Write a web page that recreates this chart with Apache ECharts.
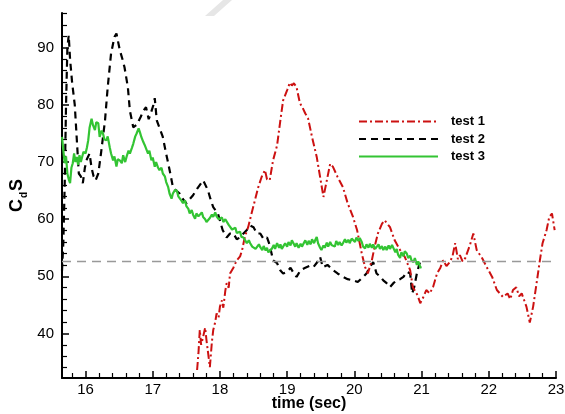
<!DOCTYPE html>
<html>
<head>
<meta charset="utf-8">
<script src="https://cdn.jsdelivr.net/npm/echarts@6/dist/echarts.min.js"></script>
<style>
html,body{margin:0;padding:0;background:#fff;}
#chart{width:565px;height:414px;}
</style>
</head>
<body>
<div id="chart"></div>
<script>
// ---- data (time in sec, C_dS) ----
const seriesNames = ['test 1', 'test 2', 'test 3'];
const xMajorTicks = [16, 17, 18, 19, 20, 21, 22, 23];
const xMinorTicks = [15.8, 16.2, 16.4, 16.6, 16.8, 17.2, 17.4, 17.6, 17.8, 18.2, 18.4, 18.6, 18.8, 19.2, 19.4, 19.6, 19.8, 20.2, 20.4, 20.6, 20.8, 21.2, 21.4, 21.6, 21.8, 22.2, 22.4, 22.6, 22.8];
const yMajorTicks = [40, 50, 60, 70, 80, 90];
const yMinorTicks = [34, 36, 38, 42, 44, 46, 48, 52, 54, 56, 58, 62, 64, 66, 68, 72, 74, 76, 78, 82, 84, 86, 88, 92, 94, 96];
const referenceLevel = 52.7;

const test1 = [[17.66,33.6],[17.68,36.5],[17.70,40.6],[17.72,38.0],[17.75,39.4],[17.78,41.0],[17.80,38.8],[17.83,36.0],[17.85,34.1],[17.88,38.5],[17.90,40.6],[17.93,42.0],[17.95,43.5],[17.98,42.8],[18.00,44.7],[18.03,45.8],[18.05,44.5],[18.08,47.5],[18.10,48.8],[18.13,48.0],[18.15,50.5],[18.20,51.5],[18.25,52.8],[18.30,53.5],[18.33,54.6],[18.37,56.9],[18.42,58.6],[18.47,61.0],[18.52,63.3],[18.57,65.6],[18.62,67.4],[18.67,68.6],[18.70,67.0],[18.74,66.8],[18.79,70.3],[18.85,72.9],[18.90,77.4],[18.94,80.8],[19.00,82.6],[19.04,83.9],[19.07,83.4],[19.10,83.8],[19.14,83.1],[19.19,80.3],[19.23,79.5],[19.27,78.5],[19.31,77.7],[19.37,74.4],[19.44,70.9],[19.49,67.4],[19.54,63.9],[19.59,66.8],[19.64,69.7],[19.68,69.2],[19.75,67.4],[19.83,65.6],[19.90,62.8],[19.98,60.4],[20.04,58.1],[20.08,55.8],[20.11,54.0],[20.16,51.6],[20.20,50.5],[20.26,52.8],[20.30,55.1],[20.35,57.5],[20.41,59.2],[20.45,59.8],[20.53,58.6],[20.60,56.3],[20.68,54.6],[20.75,53.4],[20.83,51.1],[20.87,48.1],[20.94,46.7],[20.98,45.3],[21.02,46.2],[21.07,47.6],[21.12,47.0],[21.17,48.1],[21.23,50.5],[21.28,51.5],[21.32,52.8],[21.37,51.8],[21.42,52.5],[21.46,53.5],[21.50,55.8],[21.54,53.0],[21.57,53.7],[21.61,52.6],[21.65,53.2],[21.72,55.5],[21.77,57.5],[21.82,54.6],[21.90,53.2],[21.97,51.6],[22.05,49.9],[22.12,47.6],[22.21,46.4],[22.28,47.0],[22.32,46.0],[22.36,47.6],[22.41,48.1],[22.45,46.5],[22.49,47.0],[22.56,44.7],[22.61,41.9],[22.66,44.7],[22.71,48.7],[22.76,52.8],[22.80,55.8],[22.86,58.1],[22.90,60.4],[22.94,61.0],[22.98,58.1]];

const test2 = [[15.65,51],[15.67,56],[15.69,66],[15.71,80],[15.73,90],[15.75,92.2],[15.77,88],[15.80,84],[15.84,80],[15.87,74],[15.90,68],[15.93,67.5],[15.96,66.3],[15.99,69],[16.02,70.5],[16.06,71.5],[16.09,69],[16.12,67.5],[16.15,66.8],[16.19,68],[16.23,71.5],[16.29,77.3],[16.33,83.1],[16.38,89],[16.43,91.9],[16.46,92.5],[16.48,92.2],[16.51,89.6],[16.55,88],[16.58,86.6],[16.63,83.1],[16.66,79],[16.71,76.1],[16.76,76.5],[16.82,77.9],[16.86,79],[16.90,79.6],[16.94,77.5],[16.97,78.5],[17.01,80],[17.03,81.2],[17.06,77.3],[17.10,76],[17.15,74.4],[17.19,72],[17.23,69.8],[17.27,67.5],[17.30,65.6],[17.35,65],[17.40,64.5],[17.45,63.5],[17.50,62.8],[17.55,63.5],[17.60,64.2],[17.67,65.5],[17.75,66.8],[17.82,65.1],[17.86,63.5],[17.90,62.1],[17.97,61],[18.04,58.1],[18.10,56.8],[18.15,57.5],[18.20,57.5],[18.25,56.5],[18.30,56.8],[18.35,57.5],[18.40,58.1],[18.45,58.9],[18.50,58.6],[18.55,57.5],[18.60,57.5],[18.65,56.5],[18.70,56.8],[18.74,55.5],[18.79,52.8],[18.85,52.3],[18.90,51],[18.94,50.5],[19.00,50.8],[19.05,51.5],[19.10,50.5],[19.14,49.9],[19.20,51.1],[19.27,51.5],[19.33,51.8],[19.39,51.6],[19.45,52.5],[19.49,53.4],[19.53,51.6],[19.60,52],[19.68,51.1],[19.75,50.5],[19.83,49.9],[19.90,49.5],[19.98,49.3],[20.05,49],[20.13,49.9],[20.18,50.5],[20.23,51.6],[20.28,52.5],[20.33,50.5],[20.38,50],[20.43,49.3],[20.48,48.8],[20.53,48.1],[20.58,48.8],[20.63,49.3],[20.68,49.5],[20.73,49.9],[20.78,50.8],[20.83,50.5],[20.86,47],[20.89,48.1],[20.93,50.5],[20.97,52.3],[21.0,51.8]];

const test3 = [[15.65,74.4],[15.67,72],[15.69,69.8],[15.71,71],[15.73,68],[15.75,67],[15.77,66.3],[15.79,69],[15.81,69.8],[15.83,71.5],[15.85,70],[15.87,70.9],[15.89,69.5],[15.91,71.2],[15.93,70],[15.95,70.3],[15.97,71.8],[16.0,71.5],[16.02,72.5],[16.04,73.8],[16.06,76],[16.09,77.6],[16.11,76.5],[16.14,75.6],[16.16,77],[16.19,76.8],[16.21,74.4],[16.24,75.5],[16.26,75],[16.28,74],[16.31,73.8],[16.33,74.5],[16.36,72.6],[16.38,71.5],[16.41,70.3],[16.43,71],[16.46,69.2],[16.48,70.5],[16.51,70.3],[16.54,69.8],[16.56,71.2],[16.59,70],[16.61,70.9],[16.64,72],[16.66,71.5],[16.69,72.5],[16.71,73.2],[16.74,74.5],[16.76,75],[16.79,75.9],[16.81,75.2],[16.83,74.4],[16.86,73.5],[16.88,73],[16.91,72.1],[16.93,71.5],[16.95,72],[16.98,70.3],[17.0,70.8],[17.03,69.2],[17.05,70],[17.08,69],[17.10,68.6],[17.13,69],[17.15,68],[17.18,67.5],[17.20,66.5],[17.23,65.6],[17.25,64.5],[17.28,63.6],[17.30,64.5],[17.33,65.1],[17.36,65],[17.38,64],[17.40,63.9],[17.43,63.2],[17.45,62.8],[17.48,63.3],[17.50,62.3],[17.53,61.8],[17.55,61],[17.58,61.6],[17.60,60.8],[17.63,60.1],[17.65,61],[17.68,60.5],[17.70,60.4],[17.73,61.2],[17.75,60.4],[17.78,60],[17.80,59.5],[17.82,59.2],[17.85,60.2],[17.88,60.8],[17.90,60.4],[17.93,61.2],[17.95,60.5],[17.98,60],[18.0,59.8],[18.03,60.3],[18.05,59.5],[18.08,60],[18.10,59.8],[18.13,59],[18.15,58.8],[18.18,58.2],[18.20,58.1],[18.23,58.5],[18.25,57.6],[18.27,57.5],[18.30,57.8],[18.32,56.9],[18.35,56.8],[18.38,56.2],[18.40,55.8],[18.43,56.3],[18.45,55.8],[18.48,55.2],[18.50,55.5],[18.53,54.8],[18.55,55.1],[18.58,55.6],[18.60,55.1],[18.63,54.6],[18.65,55.3],[18.68,54.5],[18.70,55],[18.72,54.2],[18.74,54],[18.77,54.8],[18.80,55.5],[18.82,54.8],[18.85,55.8],[18.88,55],[18.90,55.6],[18.92,54.8],[18.94,55.2],[18.97,55.8],[19.0,55.2],[19.02,56],[19.05,55.4],[19.07,56.3],[19.09,56],[19.12,55.2],[19.14,55.8],[19.17,55],[19.20,55.7],[19.22,55.2],[19.24,55.5],[19.27,56.3],[19.30,55.5],[19.32,56.2],[19.35,55.6],[19.37,56.5],[19.40,55.8],[19.42,56.4],[19.44,56.9],[19.46,55.8],[19.49,55],[19.51,54.6],[19.54,55.4],[19.56,55],[19.59,55.9],[19.61,55.2],[19.64,56],[19.66,55.5],[19.68,55.8],[19.71,55.2],[19.73,56.2],[19.76,55.5],[19.78,56],[19.81,55.4],[19.83,55.8],[19.86,56.5],[19.88,55.9],[19.91,56.4],[19.93,55.8],[19.96,56.6],[19.98,56.3],[20.01,56],[20.03,56.8],[20.06,56.2],[20.08,56.7],[20.11,56],[20.13,55.2],[20.16,54.9],[20.18,55.6],[20.21,55],[20.23,55.7],[20.26,55],[20.28,55.6],[20.31,54.8],[20.33,54.9],[20.36,55.6],[20.38,54.8],[20.41,55.3],[20.43,54.6],[20.46,55.2],[20.48,54.6],[20.51,55.4],[20.53,54.8],[20.56,55.5],[20.58,55.2],[20.61,54.2],[20.63,54.8],[20.65,53.8],[20.68,53.2],[20.70,54.2],[20.73,53.5],[20.75,54.4],[20.78,54],[20.80,53.2],[20.83,53.6],[20.85,52.8],[20.88,52.5],[20.90,53.2],[20.93,52],[20.95,52.6],[20.98,51.6],[21.0,51.5]];

// ---- chart ----
const FONT = '"Liberation Sans", Arial, Helvetica, sans-serif';
const chart = echarts.init(document.getElementById('chart'), null, {renderer: 'canvas'});

const xMin = 15.65, xMax = 23, yMin = 32.2, yMax = 96.1;

const option = {
  animation: false,
  backgroundColor: '#fff',
  grid: {left: 62, right: 9, top: 13, bottom: 36, containLabel: false, outerBoundsMode: 'none'},
  xAxis: [{
    type: 'value', min: xMin, max: xMax, position: 'bottom',
    axisLine: {show: true, onZero: false, lineStyle: {color: '#000', width: 2}},
    axisTick: {show: true, inside: true, length: 7, customValues: xMajorTicks, lineStyle: {color: '#000', width: 1.5}},
    axisLabel: {customValues: xMajorTicks, margin: 4, color: '#000', fontSize: 15, fontFamily: FONT, formatter: v => String(Math.round(v))},
    splitLine: {show: false},
    name: 'time (sec)', nameLocation: 'middle', nameGap: 18, nameMoveOverlap: false,
    nameTextStyle: {fontSize: 16, fontWeight: 'bold', color: '#000', fontFamily: FONT}
  }, {
    type: 'value', min: xMin, max: xMax, position: 'bottom',
    axisLine: {show: false, onZero: false},
    axisTick: {show: true, inside: true, length: 5, customValues: xMinorTicks, lineStyle: {color: '#000', width: 1.2}},
    axisLabel: {show: false},
    splitLine: {show: false}
  }],
  yAxis: [{
    type: 'value', min: yMin, max: yMax, position: 'left',
    axisLine: {show: true, onZero: false, lineStyle: {color: '#000', width: 2}},
    axisTick: {show: true, inside: true, length: 7, customValues: yMajorTicks, lineStyle: {color: '#000', width: 1.5}},
    axisLabel: {customValues: yMajorTicks, margin: 8, color: '#000', fontSize: 15, fontFamily: FONT, formatter: v => String(Math.round(v))},
    splitLine: {show: false},
    name: '{a|C}{b|d}{a|S}', nameLocation: 'middle', nameGap: 33, nameMoveOverlap: false,
    nameTextStyle: {
      color: '#000', fontFamily: FONT,
      rich: {
        a: {fontSize: 18, fontWeight: 'bold', color: '#000', fontFamily: FONT},
        b: {fontSize: 10, fontWeight: 'bold', color: '#000', fontFamily: FONT, padding: [14, 1, 0, 1]}
      }
    }
  }, {
    type: 'value', min: yMin, max: yMax, position: 'left',
    axisLine: {show: false, onZero: false},
    axisTick: {show: true, inside: true, length: 5, customValues: yMinorTicks, lineStyle: {color: '#000', width: 1.2}},
    axisLabel: {show: false},
    splitLine: {show: false}
  }],
  legend: {
    orient: 'vertical', left: 353, top: 110,
    itemWidth: 79, itemHeight: 14, itemGap: 4.5,
    itemStyle: {opacity: 0},
    textStyle: {fontSize: 13, fontWeight: 'bold', color: '#000', fontFamily: FONT, padding: [0, 0, 0, 8]},
    data: seriesNames
  },
  graphic: [{
    type: 'polygon', silent: true, z: -1,
    shape: {points: [[205, 16], [214, 16], [232, 0], [223, 0]]},
    style: {fill: '#e6e6e6'}
  }],
  series: [{
    name: seriesNames[0], type: 'line', data: test1, symbol: 'none', z: 3,
    lineStyle: {color: '#cc1111', width: 2, type: [8, 3, 2, 3]},
    itemStyle: {color: '#cc1111'}
  }, {
    name: seriesNames[1], type: 'line', data: test2, symbol: 'none', z: 2,
    lineStyle: {color: '#000', width: 2.2, type: [7, 5]},
    itemStyle: {color: '#000'}
  }, {
    name: seriesNames[2], type: 'line', data: test3, symbol: 'none', z: 4,
    lineStyle: {color: '#33c433', width: 2.2, type: 'solid'},
    itemStyle: {color: '#33c433'},
    markLine: {
      silent: true, symbol: 'none', label: {show: false},
      lineStyle: {color: '#999', width: 1.3, type: [9, 6]},
      data: [{yAxis: referenceLevel}]
    }
  }]
};
chart.setOption(option);
</script>
</body>
</html>
